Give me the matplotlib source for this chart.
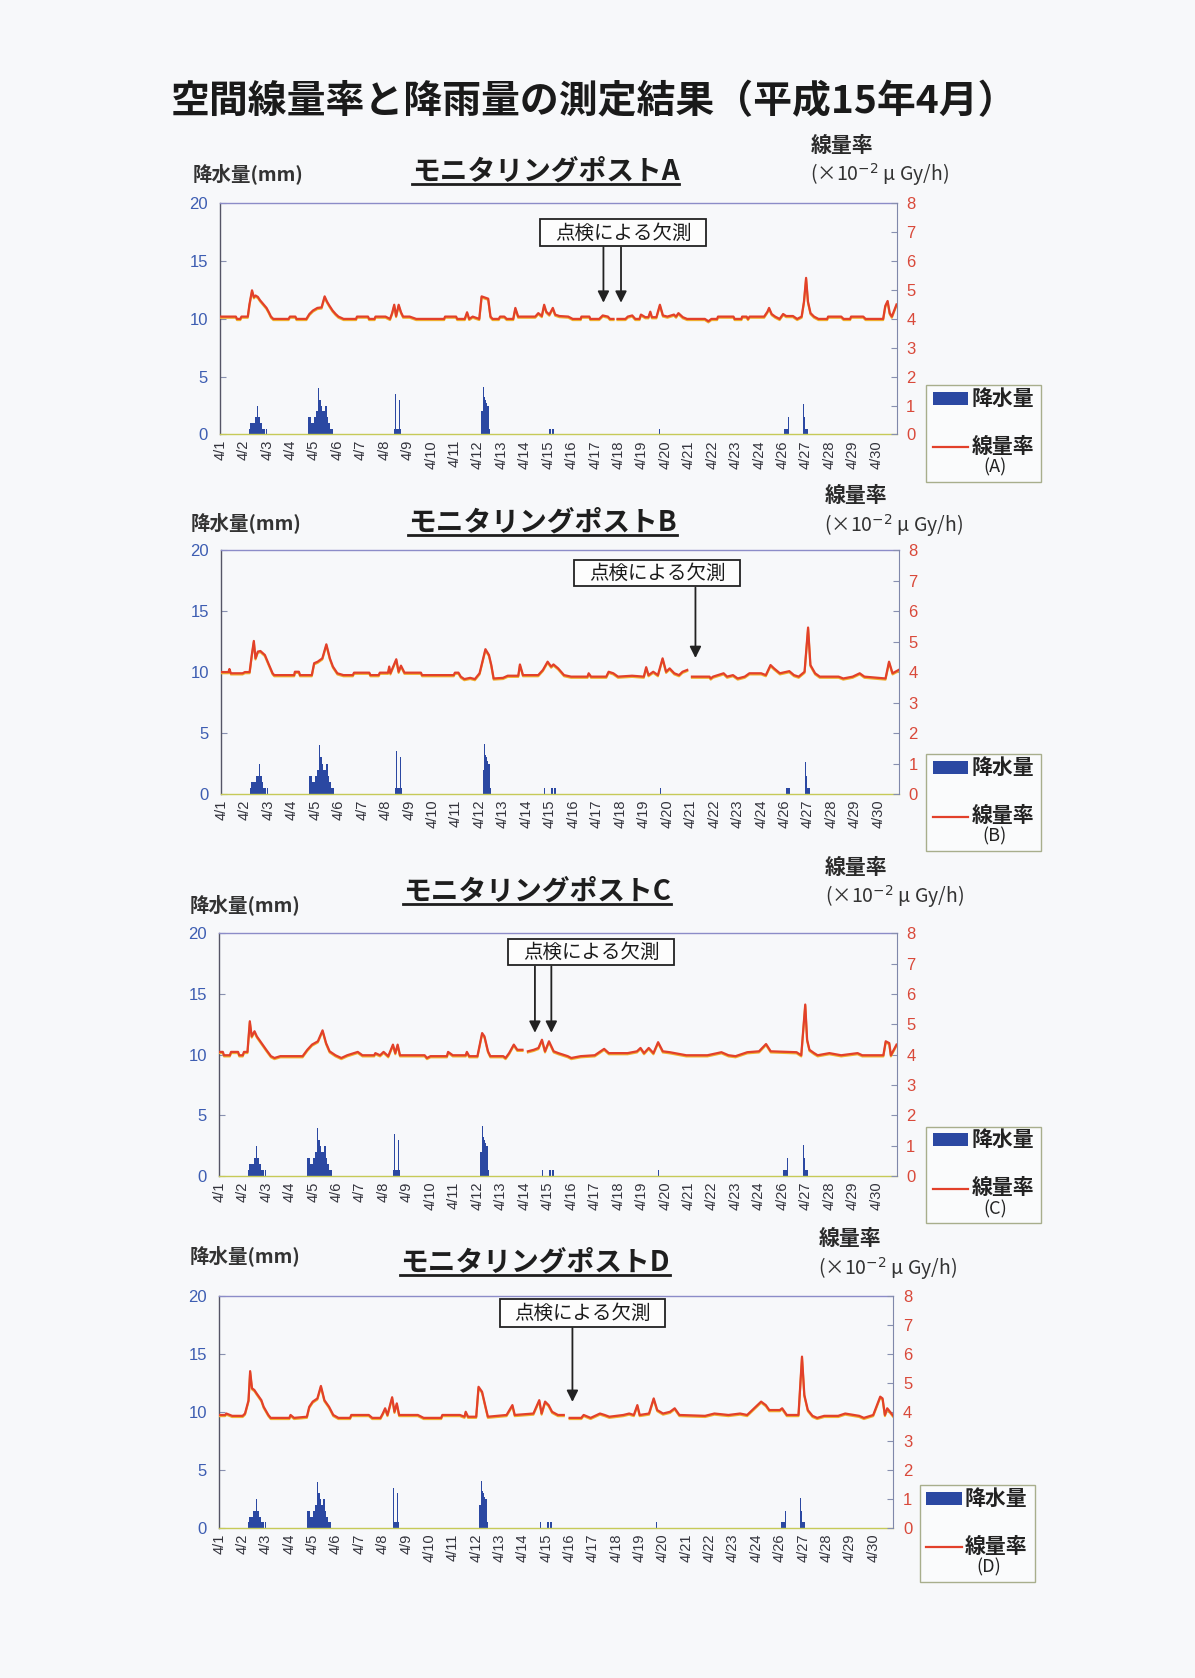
import numpy as np
import matplotlib
matplotlib.use('Agg')
import matplotlib.pyplot as plt
from matplotlib.patches import Rectangle
from matplotlib.lines import Line2D
from matplotlib import transforms

plt.rcParams['font.family'] = ['Noto Sans CJK JP', 'DejaVu Sans']
plt.rcParams['mathtext.fontset'] = 'dejavusans'

nan = float('nan')

# ------------------------------------------------------------------ data
title = '空間線量率と降雨量の測定結果（平成15年4月）'
post_names = ['A', 'B', 'C', 'D']
date_labels = ['4/1', '4/2', '4/3', '4/4', '4/5', '4/6', '4/7', '4/8', '4/9', '4/10',
               '4/11', '4/12', '4/13', '4/14', '4/15', '4/16', '4/17', '4/18', '4/19',
               '4/20', '4/21', '4/22', '4/23', '4/24', '4/26', '4/27', '4/28', '4/29',
               '4/30']
rain_left_ticks = [0, 5, 10, 15, 20]
dose_right_ticks = [0, 1, 2, 3, 4, 5, 6, 7, 8]

# hourly rainfall (hour index from start of 4/1, mm)
rain_hour = [29, 30, 31, 32, 33, 34, 35, 36, 37, 38, 39, 40, 41, 42, 43, 44, 45, 47,
             90, 91, 92, 93, 94, 95, 96, 97, 98, 99, 100, 101, 102, 103, 104, 105, 106,
             107, 108, 109, 110, 111, 112, 113, 114,
             178, 179, 180, 181, 182, 183, 184,
             267, 268, 269, 270, 271, 272, 273, 274, 275,
             330, 337, 338, 340, 341,
             449,
             577, 578, 579, 580, 581,
             597, 598, 599, 600, 601]
rain_mm = [0.5, 1.0, 1.0, 1.0, 1.0, 1.0, 1.5, 1.5, 1.5, 2.5, 1.5, 1.5, 1.0, 1.0, 0.5, 0.5, 0.5, 0.5,
           1.5, 1.5, 1.5, 1.0, 1.0, 1.0, 1.5, 1.5, 2.0, 2.0, 4.0, 3.0, 3.0, 2.5, 2.0, 2.0, 2.0,
           2.5, 2.5, 1.5, 1.0, 1.0, 0.5, 0.5, 0.5,
           0.5, 3.5, 0.5, 0.5, 0.5, 3.0, 0.5,
           2.0, 2.0, 4.1, 3.2, 3.0, 2.7, 2.5, 2.5, 0.5,
           0.5, 0.5, 0.5, 0.5, 0.5,
           0.5,
           0.5, 0.5, 0.5, 0.5, 1.5,
           2.6, 1.5, 0.5, 0.5, 0.5]

# dose rate (x10^-2 uGy/h): (position in label units, value)
dose_A = [(0.0, 4.08), (0.66, 4.08), (0.71, 4.0), (0.85, 4.0), (0.90, 4.08), (1.17, 4.08),
          (1.24, 4.5), (1.35, 4.99), (1.43, 4.75), (1.50, 4.81), (1.60, 4.76), (1.69, 4.65),
          (1.88, 4.47), (1.97, 4.38), (2.07, 4.23), (2.16, 4.08), (2.26, 4.0), (2.91, 4.0),
          (2.97, 4.08), (3.20, 4.08), (3.25, 4.0), (3.67, 4.0), (3.80, 4.17), (3.95, 4.29),
          (4.14, 4.38), (4.32, 4.40), (4.45, 4.78), (4.55, 4.60), (4.66, 4.45), (4.79, 4.29),
          (4.92, 4.17), (5.04, 4.08), (5.26, 4.0), (5.79, 4.0), (5.83, 4.08), (6.30, 4.08),
          (6.35, 4.0), (6.58, 4.0), (6.62, 4.08), (7.05, 4.08), (7.24, 4.0), (7.33, 4.2),
          (7.42, 4.49), (7.50, 4.1), (7.61, 4.49), (7.71, 4.23), (7.80, 4.08), (8.08, 4.08),
          (8.36, 4.0), (9.55, 4.0), (9.59, 4.08), (10.06, 4.08), (10.11, 4.0), (10.43, 4.0),
          (10.53, 4.23), (10.62, 4.0), (10.77, 4.08), (11.05, 4.0), (11.15, 4.78), (11.32, 4.73),
          (11.43, 4.70), (11.53, 4.08), (11.62, 4.0), (11.88, 4.0), (11.94, 4.08), (12.12, 4.08),
          (12.22, 4.0), (12.50, 4.0), (12.59, 4.38), (12.71, 4.08), (13.44, 4.08), (13.57, 4.2),
          (13.72, 4.1), (13.82, 4.49), (13.91, 4.25), (14.04, 4.15), (14.19, 4.38), (14.29, 4.15),
          (14.47, 4.1), (14.85, 4.08), (15.04, 4.0), (15.38, 4.0), (15.41, 4.08), (15.75, 4.08),
          (15.79, 4.0), (16.17, 4.0), (16.32, 4.12), (16.54, 4.08), (16.63, 4.0), (16.78, 4.0),
          (16.85, nan), (16.95, 4.0), (17.29, 4.0), (17.39, 4.08), (17.58, 4.12), (17.71, 4.0),
          (17.89, 4.0), (17.95, 4.15), (18.14, 4.06), (18.27, 4.06), (18.35, 4.25), (18.42, 4.06),
          (18.61, 4.06), (18.76, 4.49), (18.89, 4.12), (19.08, 4.08), (19.36, 4.15), (19.45, 4.08),
          (19.55, 4.2), (19.74, 4.06), (19.92, 4.0), (20.68, 4.0), (20.83, 3.92), (20.96, 4.0),
          (21.20, 4.0), (21.24, 4.08), (21.90, 4.08), (21.95, 4.0), (22.24, 4.0), (22.27, 4.08),
          (22.46, 4.08), (22.52, 4.0), (22.59, 4.08), (23.21, 4.08), (23.35, 4.25), (23.42, 4.38),
          (23.53, 4.17), (23.68, 4.08), (23.87, 4.0), (24.02, 4.17), (24.15, 4.1), (24.44, 4.1),
          (24.62, 4.0), (24.81, 4.08), (24.91, 4.6), (25.00, 5.42), (25.08, 4.6), (25.19, 4.2),
          (25.34, 4.08), (25.53, 4.0), (25.90, 4.0), (25.94, 4.08), (26.50, 4.08), (26.60, 4.0),
          (26.88, 4.0), (26.92, 4.08), (27.44, 4.08), (27.54, 4.0), (28.29, 4.0), (28.38, 4.45),
          (28.48, 4.62), (28.57, 4.2), (28.66, 4.08), (28.86, 4.5)]

dose_B = [(0.0, 4.0), (0.30, 4.0), (0.34, 4.1), (0.40, 3.96), (0.90, 3.96), (1.00, 4.0),
          (1.20, 4.0), (1.30, 4.6), (1.38, 5.02), (1.45, 4.45), (1.55, 4.67), (1.66, 4.69),
          (1.85, 4.56), (2.03, 4.23), (2.18, 3.96), (2.25, 3.90), (3.10, 3.90), (3.13, 4.01),
          (3.30, 4.01), (3.35, 3.90), (3.85, 3.90), (3.95, 4.29), (4.10, 4.34), (4.30, 4.45),
          (4.47, 4.91), (4.62, 4.45), (4.75, 4.18), (4.94, 3.96), (5.20, 3.90), (5.60, 3.90),
          (5.65, 3.98), (6.30, 3.98), (6.35, 3.90), (6.70, 3.90), (6.75, 3.98), (7.10, 3.98),
          (7.15, 4.18), (7.20, 3.96), (7.45, 4.42), (7.55, 4.01), (7.65, 4.21), (7.80, 3.98),
          (8.50, 3.98), (8.55, 3.90), (9.90, 3.90), (9.95, 3.98), (10.10, 3.98), (10.20, 3.85),
          (10.35, 3.77), (10.60, 3.81), (10.80, 3.77), (11.00, 3.96), (11.25, 4.75), (11.40, 4.56),
          (11.50, 4.23), (11.60, 3.79), (12.00, 3.81), (12.20, 3.88), (12.65, 3.88), (12.72, 4.25),
          (12.85, 3.90), (13.50, 3.90), (13.70, 4.07), (13.90, 4.34), (14.05, 4.18), (14.15, 4.25),
          (14.35, 4.12), (14.60, 3.90), (14.90, 3.85), (15.60, 3.85), (15.65, 3.96), (15.75, 3.85),
          (16.40, 3.85), (16.50, 4.01), (16.70, 3.96), (16.90, 3.85), (17.50, 3.88), (18.00, 3.85),
          (18.10, 4.16), (18.20, 3.90), (18.40, 4.01), (18.60, 3.90), (18.80, 4.45), (18.95, 4.01),
          (19.10, 4.12), (19.30, 3.96), (19.50, 3.90), (19.65, 4.01), (19.85, 4.07), (19.92, nan),
          (20.05, 3.85), (20.80, 3.85), (20.85, 3.79), (20.95, 3.85), (21.40, 3.96), (21.55, 3.85),
          (21.80, 3.90), (22.00, 3.79), (22.30, 3.85), (22.50, 3.96), (23.00, 3.96), (23.20, 3.90),
          (23.40, 4.23), (23.55, 4.12), (23.80, 3.96), (24.20, 4.03), (24.40, 3.90), (24.60, 3.85),
          (24.85, 4.01), (25.00, 5.46), (25.10, 4.23), (25.30, 3.96), (25.50, 3.85), (26.30, 3.85),
          (26.50, 3.79), (26.90, 3.85), (27.20, 3.96), (27.40, 3.85), (28.30, 3.79), (28.45, 4.34),
          (28.60, 3.96), (28.86, 4.07)]

dose_C = [(0.0, 4.09), (0.15, 4.09), (0.20, 3.98), (0.45, 3.98), (0.50, 4.09), (0.80, 4.09),
          (0.85, 3.98), (1.00, 3.98), (1.05, 4.09), (1.20, 4.09), (1.30, 5.10), (1.38, 4.60),
          (1.50, 4.77), (1.60, 4.60), (1.80, 4.38), (2.00, 4.16), (2.20, 3.95), (2.35, 3.89),
          (2.60, 3.95), (3.55, 3.95), (3.75, 4.16), (3.95, 4.33), (4.20, 4.44), (4.40, 4.80),
          (4.55, 4.38), (4.70, 4.11), (4.95, 3.98), (5.20, 3.89), (5.45, 3.98), (5.90, 4.09),
          (6.10, 3.98), (6.60, 3.98), (6.65, 4.05), (6.85, 3.98), (7.00, 4.09), (7.20, 3.95),
          (7.40, 4.33), (7.50, 4.05), (7.60, 4.33), (7.70, 3.98), (8.75, 3.98), (8.85, 3.89),
          (9.00, 3.95), (9.70, 3.95), (9.75, 4.09), (9.95, 3.98), (10.50, 3.98), (10.55, 4.09),
          (10.65, 3.95), (11.00, 3.95), (11.20, 4.71), (11.30, 4.60), (11.45, 4.11), (11.55, 3.95),
          (12.10, 3.95), (12.20, 3.89), (12.35, 4.05), (12.55, 4.33), (12.70, 4.16), (12.92, 4.16),
          (12.97, nan), (13.15, 4.11), (13.40, 4.16), (13.60, 4.22), (13.75, 4.49), (13.88, 4.11),
          (14.05, 4.44), (14.25, 4.11), (14.45, 4.05), (14.85, 3.95), (15.00, 3.89), (15.40, 3.95),
          (16.00, 3.98), (16.40, 4.19), (16.60, 4.05), (17.40, 4.05), (17.80, 4.11), (17.95, 4.22),
          (18.10, 4.05), (18.30, 4.22), (18.50, 4.05), (18.70, 4.41), (18.90, 4.11), (19.20, 4.08),
          (19.90, 3.98), (20.80, 3.98), (21.40, 4.08), (21.70, 3.98), (22.00, 3.95), (22.50, 4.08),
          (23.00, 4.11), (23.30, 4.35), (23.50, 4.11), (24.60, 4.08), (24.80, 3.98), (24.97, 5.65),
          (25.05, 4.49), (25.15, 4.16), (25.35, 4.05), (25.50, 3.98), (26.00, 4.05), (26.50, 3.98),
          (27.20, 4.05), (27.40, 3.98), (28.30, 3.98), (28.40, 4.44), (28.55, 4.38), (28.62, 3.98),
          (28.86, 4.33)]

dose_D = [(0.0, 3.90), (0.25, 3.90), (0.30, 3.95), (0.55, 3.87), (1.00, 3.87), (1.10, 3.95),
          (1.25, 4.40), (1.32, 5.41), (1.40, 4.82), (1.50, 4.76), (1.60, 4.64), (1.80, 4.41),
          (1.90, 4.18), (2.10, 3.90), (2.20, 3.80), (3.00, 3.80), (3.05, 3.90), (3.20, 3.80),
          (3.75, 3.84), (3.85, 4.18), (4.00, 4.36), (4.20, 4.47), (4.35, 4.90), (4.50, 4.41),
          (4.70, 4.18), (4.88, 3.90), (5.10, 3.80), (5.60, 3.80), (5.65, 3.90), (6.40, 3.90),
          (6.55, 3.80), (6.90, 3.80), (7.00, 3.95), (7.10, 4.13), (7.20, 3.90), (7.40, 4.51),
          (7.50, 4.01), (7.60, 4.30), (7.70, 3.90), (8.50, 3.90), (8.75, 3.80), (9.50, 3.80),
          (9.55, 3.90), (10.30, 3.90), (10.50, 3.84), (10.55, 4.01), (10.65, 3.84), (11.00, 3.84),
          (11.10, 4.87), (11.25, 4.70), (11.40, 4.18), (11.50, 3.84), (12.30, 3.90), (12.55, 4.24),
          (12.65, 3.90), (13.45, 3.95), (13.70, 4.41), (13.80, 3.95), (13.95, 4.36), (14.10, 4.24),
          (14.25, 4.01), (14.50, 3.90), (14.75, 3.90), (14.80, nan), (15.00, 3.80), (15.50, 3.80),
          (15.60, 3.90), (15.90, 3.80), (16.30, 3.95), (16.50, 3.90), (16.70, 3.84), (17.30, 3.90),
          (17.55, 3.95), (17.75, 3.90), (17.90, 4.24), (18.00, 3.90), (18.40, 3.95), (18.60, 4.47),
          (18.75, 4.07), (19.00, 3.95), (19.30, 4.01), (19.50, 4.13), (19.70, 3.90), (20.80, 3.87),
          (21.20, 3.95), (21.80, 3.90), (22.30, 3.95), (22.60, 3.90), (23.20, 4.36), (23.40, 4.24),
          (23.55, 4.07), (24.00, 4.07), (24.10, 4.13), (24.30, 3.90), (24.80, 3.90), (24.95, 5.91),
          (25.05, 4.59), (25.20, 4.07), (25.40, 3.87), (25.60, 3.80), (25.90, 3.87), (26.50, 3.87),
          (26.80, 3.95), (27.40, 3.87), (27.60, 3.80), (28.00, 3.90), (28.30, 4.53), (28.40, 4.47),
          (28.50, 3.90), (28.60, 4.13), (28.86, 3.87)]

dose_series = [dose_A, dose_B, dose_C, dose_D]
missing_label = '点検による欠測'
# positions (label units) and dose values where the "missing" arrows point
missing_x = [[16.35, 17.1], [20.2], [13.45, 14.15], [15.12]]
missing_tip = [4.56, 4.46, 4.72, 4.35]

# ------------------------------------------------------------------ layout (reference pixel grid 1117x1568)
W, H = 1117.0, 1568.0
def fx(x):
    return x / W
def fy(y):
    return 1.0 - y / H

panels = [
    dict(ax=(206, 838, 190, 406), sub=(510, 160), lab=(180, 162), dr=(787, 136), unit=(822, 163),
         leg=(866, 360), box=(505, 205, 660, 230)),
    dict(ax=(207, 840, 514, 742), sub=(507, 488), lab=(178, 488), dr=(800, 463), unit=(835, 491),
         leg=(866, 705), box=(537, 523, 692, 548)),
    dict(ax=(205, 838, 872, 1099), sub=(502, 833), lab=(177, 845), dr=(800, 811), unit=(836, 838),
         leg=(866, 1053), box=(475, 877, 630, 902)),
    dict(ax=(205, 835, 1211, 1428), sub=(500, 1180), lab=(177, 1173), dr=(795, 1157), unit=(830, 1185),
         leg=(860, 1388), box=(467, 1214, 622, 1240)),
]

BG = '#f7f8fa'
BLUE = '#2b48a2'
RED = '#e2402a'
NUMFONT = ['Liberation Sans', 'DejaVu Sans']

fig = plt.figure(figsize=(11.95, 16.78), dpi=100, facecolor=BG)

fig.text(fx(555), fy(95), title, ha='center', va='center', fontsize=28,
         fontweight='bold', color='#1a1a1a')

subtitles = []
for i, p in enumerate(panels):
    L, R, T, B = p['ax']
    ax = fig.add_axes([fx(L), fy(B), (R - L) / W, (B - T) / H])
    ax.set_facecolor(BG)
    ax.bar(np.array(rain_hour) / 24.0, rain_mm, width=1 / 24.0, align='edge',
           color=BLUE, linewidth=0, zorder=2)
    ax.set_xlim(0, 28.86)
    ax.set_ylim(0, 20)
    ax.set_yticks(rain_left_ticks)
    ax.set_yticklabels([str(v) for v in rain_left_ticks], fontfamily=NUMFONT)
    ax.tick_params(axis='y', direction='in', length=4, color='#8890b0',
                   labelcolor='#3d5db2', labelsize=12, pad=9)
    ax.set_xticks(range(len(date_labels)))
    ax.set_xticklabels(date_labels, rotation=90, fontfamily=NUMFONT)
    ax.tick_params(axis='x', length=0, labelsize=10.5, labelcolor='#33333c', pad=4)
    ax.spines['top'].set_color('#8c8cc8')
    ax.spines['left'].set_color('#555566')
    ax.spines['bottom'].set_color('#c6ca58')
    ax.spines['right'].set_visible(False)
    for s in ax.spines.values():
        s.set_linewidth(1.0)

    ax2 = ax.twinx()
    ax2.set_ylim(0, 8)
    ax2.set_yticks(dose_right_ticks)
    ax2.set_yticklabels([str(v) for v in dose_right_ticks], fontfamily=NUMFONT)
    ax2.tick_params(axis='y', direction='in', length=4, color='#8890b0',
                    labelcolor='#d9493a', labelsize=12, pad=7)
    for k in ['top', 'left', 'bottom']:
        ax2.spines[k].set_visible(False)
    ax2.spines['right'].set_color('#8088aa')

    dx = [d[0] for d in dose_series[i]]
    dy = [d[1] for d in dose_series[i]]
    under = transforms.offset_copy(ax2.transData, fig=fig, x=0, y=-1.2, units='dots')
    ax2.plot(dx, dy, color='#f0b030', lw=1.5, transform=under, zorder=3)
    ax2.plot(dx, dy, color=RED, lw=1.6, zorder=4)

    # texts
    sx, sy = p['sub']
    t = fig.text(fx(sx), fy(sy), 'モニタリングポスト' + post_names[i], ha='center', va='center',
                 fontsize=20, fontweight='bold', color='#1e1e1e')
    subtitles.append(t)
    lx, ly = p['lab']
    fig.text(fx(lx), fy(ly), '降水量(mm)', ha='left', va='center', fontsize=14,
             fontweight='bold', color='#333333')
    dxp, dyp = p['dr']
    fig.text(fx(dxp), fy(dyp), '線量率', ha='center', va='center', fontsize=15,
             fontweight='bold', color='#2a2a2a')
    ux, uy = p['unit']
    fig.text(fx(ux), fy(uy), r'(×10$^{-2}$ μ Gy/h)', ha='center', va='center', fontsize=14,
             color='#333333')

    # legend box
    gx, gy = p['leg']
    fig.add_artist(Rectangle((fx(gx), fy(gy + 90)), 107 / W, 90 / H, transform=fig.transFigure,
                             facecolor='#fafbfc', edgecolor='#a8ae8c', lw=1.0))
    fig.add_artist(Rectangle((fx(gx + 6), fy(gy + 18)), 33 / W, 12 / H, transform=fig.transFigure,
                             facecolor=BLUE, edgecolor='none'))
    fig.text(fx(gx + 42), fy(gy + 12), '降水量', ha='left', va='center', fontsize=15,
             fontweight='bold', color='#222222')
    fig.add_artist(Line2D([fx(gx + 6), fx(gx + 39)], [fy(gy + 58), fy(gy + 58)],
                          transform=fig.transFigure, color=RED, lw=1.6))
    fig.text(fx(gx + 42), fy(gy + 57), '線量率', ha='left', va='center', fontsize=15,
             fontweight='bold', color='#222222')
    fig.text(fx(gx + 64), fy(gy + 77), '(' + post_names[i] + ')', ha='center', va='center',
             fontsize=13, color='#222222')

    # "missing" annotation
    bl, bt, br, bb = p['box']
    fig.add_artist(Rectangle((fx(bl), fy(bb)), (br - bl) / W, (bb - bt) / H,
                             transform=fig.transFigure, facecolor='#fdfdfd',
                             edgecolor='#222222', lw=1.3))
    fig.text(fx((bl + br) / 2), fy((bt + bb) / 2 + 0.5), missing_label, ha='center', va='center',
             fontsize=14, color='#1a1a1a')
    blend = transforms.blended_transform_factory(ax2.transData, fig.transFigure)
    for xm in missing_x[i]:
        ax2.annotate('', xy=(xm, missing_tip[i]), xycoords='data',
                     xytext=(xm, fy(bb + 1)), textcoords=blend,
                     arrowprops=dict(arrowstyle='-|>', color='#222222', lw=1.3,
                                     mutation_scale=17, shrinkA=0, shrinkB=0),
                     annotation_clip=False, zorder=6)

# underline the subtitles
fig.canvas.draw()
renderer = fig.canvas.get_renderer()
for t in subtitles:
    bb = t.get_window_extent(renderer=renderer)
    inv = fig.transFigure.inverted()
    (x0, y0), (x1, y1) = inv.transform([(bb.x0, bb.y0), (bb.x1, bb.y1)])
    yl = y0 + 1.5 / 1678.0
    fig.add_artist(Line2D([x0, x1], [yl, yl], transform=fig.transFigure,
                          color='#1e1e1e', lw=2.0))

fig.savefig('out.png', dpi=100, facecolor=BG)
